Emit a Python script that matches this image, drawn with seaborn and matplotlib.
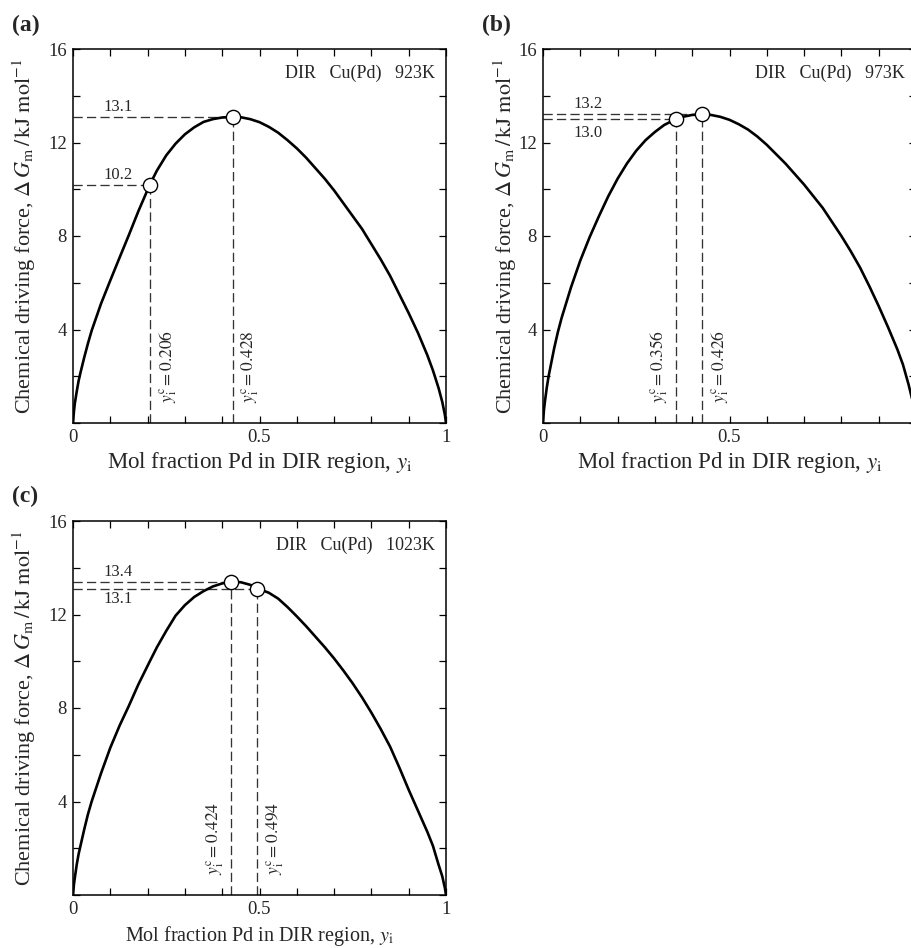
import matplotlib
matplotlib.use("Agg")
import matplotlib.pyplot as plt
import matplotlib.ticker as mticker
import seaborn as sns
import pandas as pd

# ---------------- data ----------------
a_x = [0, 0.0025, 0.005, 0.01, 0.015, 0.02, 0.03, 0.04, 0.05, 0.075, 0.1, 0.125, 0.15, 0.175,
       0.206, 0.225, 0.25, 0.275, 0.3, 0.325, 0.35, 0.375, 0.4, 0.428, 0.45, 0.475, 0.5, 0.525,
       0.55, 0.575, 0.6, 0.625, 0.65, 0.675, 0.7, 0.725, 0.75, 0.775, 0.8, 0.825, 0.85, 0.875,
       0.9, 0.925, 0.95, 0.965, 0.98, 0.99, 0.997, 1.0]
a_y = [0, 0.5, 0.85, 1.35, 1.8, 2.15, 2.8, 3.4, 3.95, 5.1, 6.1, 7.08, 8.05, 9.05,
       10.2, 10.8, 11.45, 11.95, 12.35, 12.65, 12.88, 13.0, 13.07, 13.1, 13.08, 13.0, 12.87, 12.67,
       12.42, 12.1, 11.75, 11.35, 10.9, 10.45, 9.95, 9.4, 8.85, 8.3, 7.65, 7.0, 6.3, 5.5,
       4.7, 3.85, 2.9, 2.25, 1.5, 0.9, 0.35, 0]

b_x = [0, 0.0025, 0.005, 0.01, 0.015, 0.02, 0.03, 0.04, 0.05, 0.075, 0.1, 0.125, 0.15, 0.175,
       0.2, 0.225, 0.25, 0.275, 0.3, 0.325, 0.356, 0.375, 0.4, 0.426, 0.45, 0.475, 0.5, 0.525,
       0.55, 0.575, 0.6, 0.625, 0.65, 0.675, 0.7, 0.725, 0.75, 0.775, 0.8, 0.825, 0.85, 0.875,
       0.9, 0.925, 0.95, 0.965, 0.98, 0.99, 0.997, 1.0]
b_y = [0, 0.55, 0.9, 1.5, 2.0, 2.4, 3.2, 3.9, 4.5, 5.8, 6.95, 7.95, 8.85, 9.7,
       10.45, 11.1, 11.65, 12.1, 12.45, 12.75, 13.0, 13.1, 13.18, 13.2, 13.18, 13.1, 12.97, 12.78,
       12.55, 12.25, 11.9, 11.5, 11.1, 10.65, 10.2, 9.7, 9.2, 8.6, 8.0, 7.35, 6.65, 5.85,
       5.0, 4.1, 3.15, 2.5, 1.65, 1.0, 0.4, 0]

c_x = [0, 0.0025, 0.005, 0.01, 0.015, 0.02, 0.03, 0.04, 0.05, 0.075, 0.1, 0.125, 0.15, 0.175,
       0.206, 0.225, 0.25, 0.275, 0.3, 0.325, 0.35, 0.375, 0.4, 0.424, 0.45, 0.475, 0.494, 0.525,
       0.55, 0.575, 0.6, 0.625, 0.65, 0.675, 0.7, 0.725, 0.75, 0.775, 0.8, 0.825, 0.85, 0.875,
       0.9, 0.925, 0.95, 0.965, 0.98, 0.99, 0.997, 1.0]
c_y = [0, 0.45, 0.75, 1.3, 1.75, 2.1, 2.8, 3.45, 4.0, 5.2, 6.3, 7.25, 8.1, 9.0,
       10.0, 10.6, 11.3, 11.95, 12.4, 12.75, 13.0, 13.2, 13.33, 13.4, 13.38, 13.27, 13.12, 12.93,
       12.68, 12.32, 11.92, 11.5, 11.05, 10.6, 10.12, 9.6, 9.05, 8.45, 7.8, 7.1, 6.35, 5.45,
       4.5, 3.6, 2.7, 2.1, 1.3, 0.8, 0.3, 0]

panel_letters = ["(a)", "(b)", "(c)"]
temperatures = ["923K", "973K", "1023K"]
# critical points: x, y, value label
a_pts_x = [0.206, 0.428]
a_pts_y = [10.2, 13.1]
a_pts_lbl = ["10.2", "13.1"]
b_pts_x = [0.356, 0.426]
b_pts_y = [13.0, 13.2]
b_pts_lbl = ["13.0", "13.2"]
c_pts_x = [0.424, 0.494]
c_pts_y = [13.4, 13.1]
c_pts_lbl = ["13.4", "13.1"]
x_tick_labels = ["0", "0.5", "1"]
y_tick_labels = ["", "4", "8", "12", "16"]

# ---------------- style ----------------
sns.set_theme(style="ticks")
plt.rcParams["font.family"] = ["Liberation Serif", "DejaVu Serif"]
plt.rcParams["mathtext.fontset"] = "stix"
plt.rcParams["axes.linewidth"] = 1.1

W, H = 911, 948
fig = plt.figure(figsize=(W / 100, H / 100), dpi=100)

def box(l, t, w=373, h=374):
    return [l / W, (H - t - h) / H, w / W, h / H]

ax_a = fig.add_axes(box(73, 49))
ax_b = fig.add_axes(box(543, 49))
ax_c = fig.add_axes(box(73, 521))

panels = [
    # axes, curve, points, value-label y, vertical-label side, xlabel size/pad, ylabel pad,
    # whether the x=1 label is visible (panel b is cropped at the right edge)
    (ax_a, a_x, a_y, a_pts_x, a_pts_y, a_pts_lbl,
     [10.6, 13.5], ["right", "right"], 16.5, 3, 7, True),
    (ax_b, b_x, b_y, b_pts_x, b_pts_y, b_pts_lbl,
     [12.42, 13.66], ["left", "right"], 16.5, 3, -1, False),
    (ax_c, c_x, c_y, c_pts_x, c_pts_y, c_pts_lbl,
     [13.82, 12.66], ["left", "right"], 14.5, 4, 7, True),
]

ylab = r"Chemical driving force, $\Delta\,G_{\mathrm{m}}\,/\,\mathrm{kJ\ mol^{-1}}$"
xlab = r"Mol fraction Pd in DIR region, $y_{\mathrm{i}}$"
dash = (0, (7, 3.2))

for i, (ax, xs, ys, px, py, plbl, lbl_y, sides, xls, xlp, ylp, show_one) in enumerate(panels):
    df = pd.DataFrame({"x": xs, "y": ys})
    sns.lineplot(data=df, x="x", y="y", ax=ax, color="black", lw=1.9, sort=False, zorder=3)
    for xv, yv, lb, ly, side in zip(px, py, plbl, lbl_y, sides):
        ax.plot([0, xv], [yv, yv], color="#333333", lw=0.95, ls=dash, zorder=2)
        ax.plot([xv, xv], [0, yv], color="#333333", lw=0.95, ls=dash, zorder=2)
        ax.text(0.12, ly, lb, ha="center", va="center", fontsize=12)
        off = 5 if side == "right" else -4
        ax.annotate(r"$y_{\mathrm{i}}^{\mathrm{c}}=%s$" % ("%.3f" % xv),
                    xy=(xv, 0.85), xytext=(off, 0), textcoords="offset points",
                    rotation=90, ha="left" if side == "right" else "right",
                    va="bottom", fontsize=12.5)
    pts = pd.DataFrame({"x": px, "y": py})
    sns.scatterplot(data=pts, x="x", y="y", ax=ax, s=105, color="white",
                    edgecolor="black", linewidth=1.0, zorder=5)
    ax.text(0.97, 14.95, "DIR   Cu(Pd)   " + temperatures[i], ha="right", va="center",
            fontsize=13)

    ax.set_xlim(0, 1)
    ax.set_ylim(0, 16)
    xl = x_tick_labels if show_one else x_tick_labels[:2] + [""]
    ax.xaxis.set_major_locator(mticker.FixedLocator([0, 0.5, 1]))
    ax.xaxis.set_major_formatter(mticker.FixedFormatter(xl))
    ax.xaxis.set_minor_locator(mticker.MultipleLocator(0.1))
    ax.yaxis.set_major_locator(mticker.FixedLocator([0, 4, 8, 12, 16]))
    ax.yaxis.set_major_formatter(mticker.FixedFormatter(y_tick_labels))
    ax.yaxis.set_minor_locator(mticker.MultipleLocator(2))
    ax.tick_params(which="both", direction="in", top=True, right=True,
                   length=5, width=0.9, color="black", labelsize=13.5, pad=4.5)
    ax.set_xlabel(xlab, fontsize=xls, labelpad=xlp)
    ax.set_ylabel(ylab, fontsize=16, labelpad=ylp)
    for sp in ax.spines.values():
        sp.set_color("black")

for lt, (x, y) in zip(panel_letters, [(12, 25), (482, 25), (12, 496)]):
    fig.text(x / W, 1 - y / H, lt, fontsize=17, fontweight="bold", ha="left", va="center")

fig.savefig("out.png", dpi=100)
